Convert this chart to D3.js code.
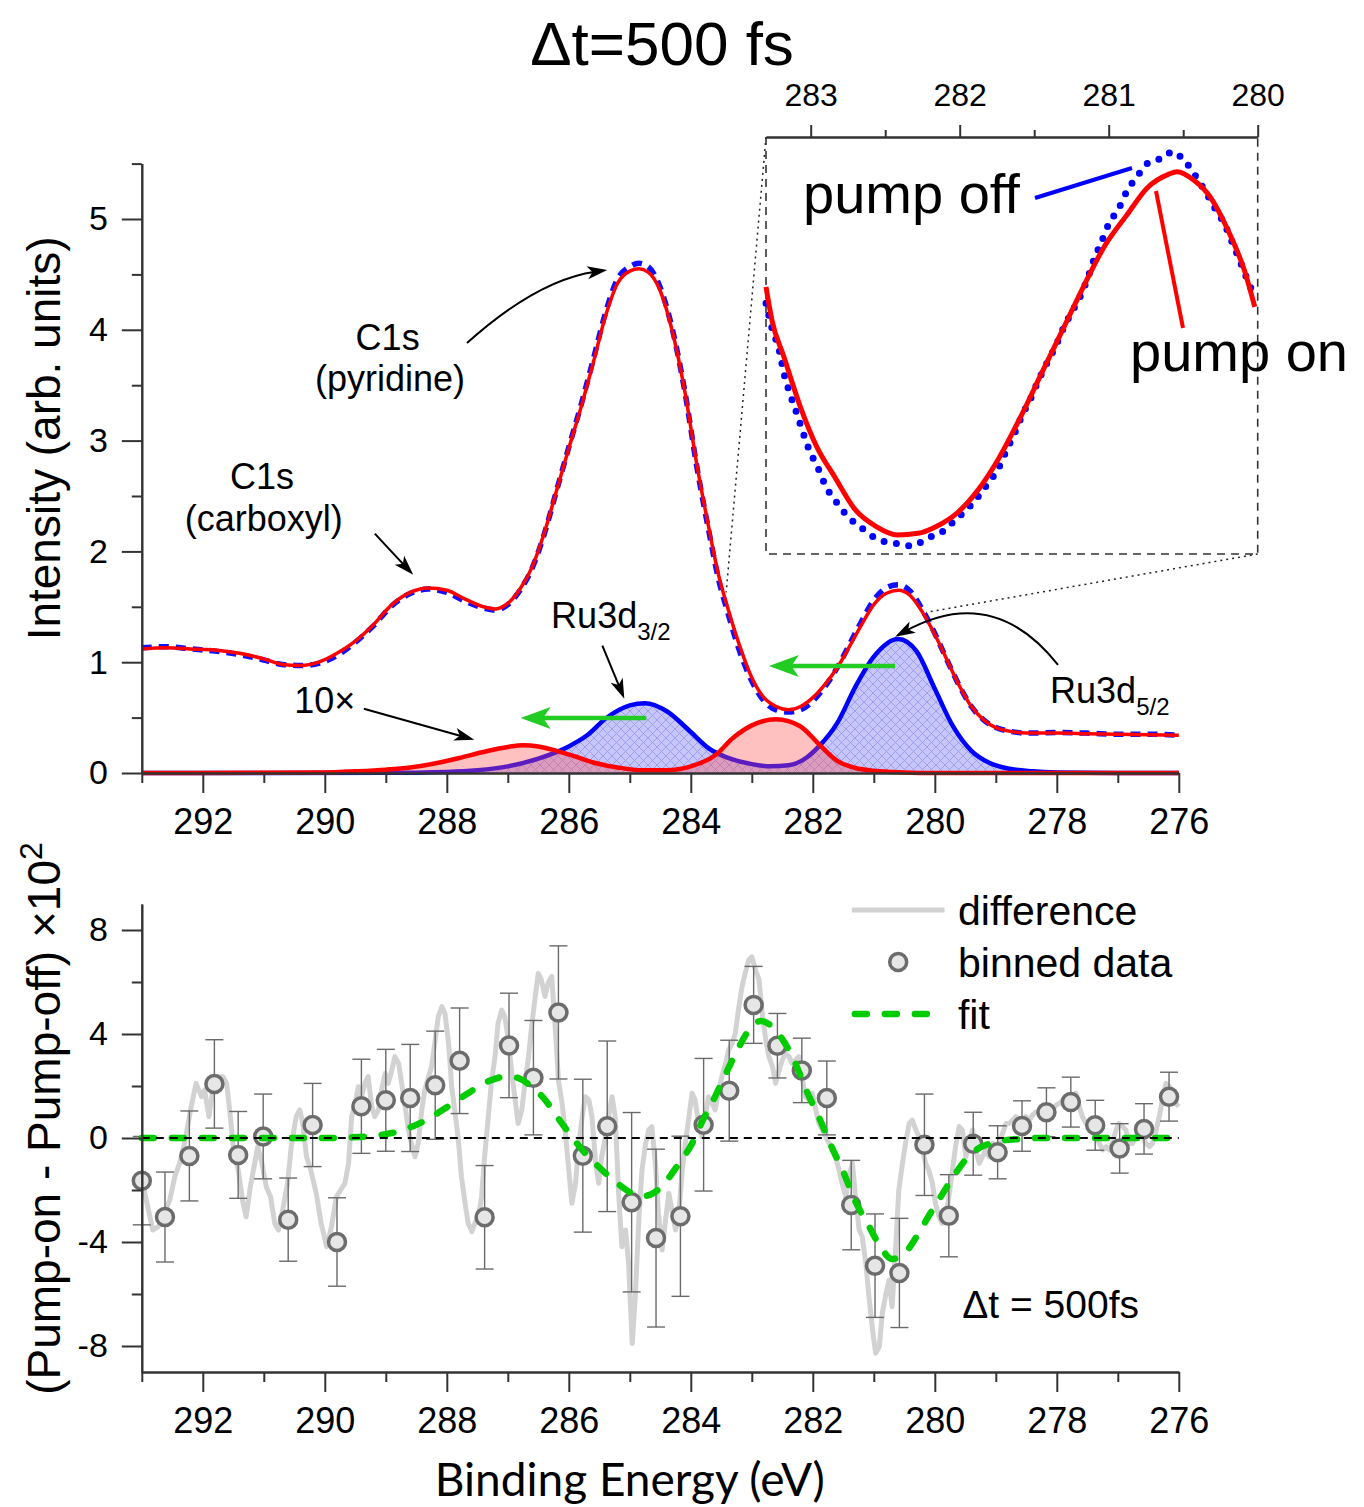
<!DOCTYPE html>
<html>
<head>
<meta charset="utf-8">
<script src="https://cdn.jsdelivr.net/npm/d3@7"></script>
<style>
  body { margin: 0; background: #fff; }
  text { fill: #000; }
</style>
</head>
<body>
<script>
"use strict";

var svg_width = 1364;
var svg_height = 1507;

// tick values
var energyMajor = [292, 290, 288, 286, 284, 282, 280, 278, 276];
var energyMinor = [293, 291, 289, 287, 285, 283, 281, 279, 277];
var intensityMajor = [0, 1, 2, 3, 4, 5];
var intensityMinor = [0.5, 1.5, 2.5, 3.5, 4.5, 5.5];
var diffMajor = [-8, -4, 0, 4, 8];
var diffMinor = [-6, -2, 2, 6];
var insetMajor = [283, 282, 281, 280];
var insetMinor = [282.5, 281.5, 280.5];

// XPS spectra [binding energy, intensity]
var pumpOn = [[293.0,1.12],[292.6,1.13],[292.2,1.12],[291.8,1.11],[291.4,1.08],[291.0,1.03],[290.7,0.98],[290.4,0.97],[290.1,1.0],[289.8,1.08],[289.5,1.19],[289.2,1.34],[288.9,1.52],[288.6,1.63],[288.3,1.67],[288.0,1.65],[287.7,1.57],[287.4,1.5],[287.2,1.48],[287.0,1.53],[286.8,1.66],[286.6,1.86],[286.4,2.17],[286.2,2.55],[286.0,2.93],[285.8,3.3],[285.6,3.7],[285.4,4.12],[285.2,4.42],[285.0,4.53],[284.85,4.55],[284.7,4.52],[284.5,4.35],[284.3,3.98],[284.1,3.45],[283.9,2.78],[283.7,2.2],[283.55,1.8],[283.4,1.5],[283.2,1.15],[283.0,0.86],[282.8,0.68],[282.6,0.6],[282.4,0.57],[282.2,0.6],[282.0,0.68],[281.8,0.8],[281.6,0.95],[281.4,1.14],[281.2,1.34],[281.0,1.52],[280.8,1.62],[280.6,1.65],[280.4,1.6],[280.2,1.45],[280.0,1.25],[279.8,1.02],[279.6,0.79],[279.4,0.6],[279.2,0.48],[279.0,0.41],[278.8,0.38],[278.5,0.36],[278.0,0.36],[277.5,0.355],[277.0,0.35],[276.5,0.345],[276.0,0.34]];
var pumpOff = [[293.0,1.13],[292.6,1.14],[292.2,1.12],[291.8,1.1],[291.4,1.07],[291.0,1.02],[290.7,0.98],[290.4,0.97],[290.1,0.99],[289.8,1.06],[289.5,1.18],[289.2,1.33],[288.9,1.51],[288.6,1.62],[288.3,1.66],[288.0,1.63],[287.7,1.55],[287.4,1.49],[287.2,1.47],[287.0,1.52],[286.8,1.65],[286.6,1.85],[286.4,2.16],[286.2,2.55],[286.0,2.94],[285.8,3.32],[285.6,3.73],[285.4,4.15],[285.2,4.46],[285.0,4.57],[284.85,4.6],[284.7,4.57],[284.5,4.38],[284.3,4.0],[284.1,3.45],[283.9,2.76],[283.7,2.17],[283.55,1.76],[283.4,1.46],[283.2,1.1],[283.0,0.83],[282.8,0.65],[282.6,0.57],[282.4,0.55],[282.2,0.57],[282.0,0.65],[281.8,0.78],[281.6,0.95],[281.4,1.16],[281.2,1.37],[281.0,1.56],[280.8,1.67],[280.6,1.7],[280.4,1.64],[280.2,1.47],[280.0,1.26],[279.8,1.02],[279.6,0.79],[279.4,0.6],[279.2,0.48],[279.0,0.41],[278.8,0.38],[278.5,0.36],[278.0,0.365],[277.5,0.36],[277.0,0.35],[276.5,0.35],[276.0,0.34]];

// fitted Ru3d components, 10x
var compOff = [[293,0],[289,0.002],[288,0.01],[287.5,0.025],[287,0.06],[286.5,0.13],[286,0.24],[285.7,0.34],[285.4,0.49],[285.0,0.61],[284.75,0.63],[284.4,0.56],[284.0,0.37],[283.7,0.22],[283.3,0.12],[283.0,0.08],[282.7,0.06],[282.4,0.07],[282.1,0.14],[281.9,0.24],[281.6,0.45],[281.3,0.78],[281.0,1.05],[280.6,1.21],[280.3,1.1],[280.0,0.76],[279.7,0.42],[279.4,0.2],[279.1,0.09],[278.8,0.04],[278.4,0.015],[278,0.005],[277,0],[276,0]];
var compOn = [[293,0],[291,0.002],[290,0.005],[289.5,0.015],[289,0.03],[288.6,0.05],[288.2,0.085],[287.8,0.135],[287.4,0.19],[287.0,0.235],[286.75,0.25],[286.5,0.24],[286.2,0.2],[285.9,0.15],[285.6,0.095],[285.2,0.05],[284.8,0.025],[284.4,0.025],[284.0,0.06],[283.6,0.16],[283.3,0.32],[283.0,0.43],[282.6,0.485],[282.2,0.42],[281.9,0.26],[281.6,0.11],[281.3,0.045],[281.0,0.02],[280.5,0.005],[280,0],[276,0]];

// zoomed Ru3d5/2 region (inset)
var insetOn = [[283.30,1.301],[283.26,1.201],[283.18,1.091],[283.07,0.942],[282.96,0.822],[282.84,0.732],[282.70,0.632],[282.56,0.582],[282.42,0.557],[282.28,0.562],[282.16,0.582],[282.02,0.622],[281.88,0.69],[281.74,0.785],[281.59,0.912],[281.45,1.042],[281.31,1.171],[281.17,1.301],[281.03,1.421],[280.88,1.515],[280.74,1.598],[280.60,1.638],[280.54,1.646],[280.43,1.621],[280.32,1.571],[280.20,1.471],[280.09,1.351],[280.02,1.241]];
var insetOff = [[283.30,1.252],[283.26,1.177],[283.21,1.109],[283.18,1.042],[283.14,0.982],[283.09,0.917],[283.05,0.862],[283.01,0.812],[282.95,0.757],[282.90,0.704],[282.83,0.657],[282.76,0.617],[282.64,0.572],[282.55,0.544],[282.43,0.532],[282.32,0.524],[282.22,0.547],[282.11,0.569],[282.03,0.602],[281.93,0.644],[281.88,0.670],[281.81,0.712],[281.74,0.757],[281.69,0.807],[281.63,0.864],[281.58,0.917],[281.52,0.970],[281.47,1.022],[281.41,1.076],[281.35,1.129],[281.30,1.181],[281.25,1.223],[281.19,1.273],[281.14,1.328],[281.10,1.381],[281.05,1.434],[281.00,1.489],[280.93,1.538],[280.88,1.586],[280.81,1.631],[280.74,1.671],[280.61,1.693],[280.58,1.706],[280.48,1.673],[280.41,1.628],[280.35,1.586],[280.29,1.539],[280.22,1.486],[280.17,1.433],[280.12,1.379],[280.07,1.323],[280.02,1.271]];

// pump-on minus pump-off (x100)
var difference = [[293.0,-1.3],[292.95,-2.13],[292.82,-3.54],[292.73,-3.41],[292.54,-2.38],[292.46,-1.49],[292.38,-0.97],[292.30,-0.21],[292.19,1.21],[292.11,2.10],[292.02,1.59],[291.97,1.85],[291.90,0.82],[291.83,1.97],[291.75,2.36],[291.67,2.36],[291.61,2.10],[291.56,1.08],[291.50,-0.33],[291.42,-1.23],[291.34,-2.51],[291.29,-3.03],[291.22,-1.87],[291.15,-0.97],[291.10,-0.33],[291.03,-0.97],[290.96,-1.87],[290.89,-2.26],[290.82,-3.28],[290.76,-3.54],[290.69,-2.77],[290.61,-1.74],[290.55,-0.33],[290.47,0.82],[290.41,1.08],[290.36,0.56],[290.30,-0.72],[290.23,-1.23],[290.14,-2.13],[290.06,-3.28],[289.97,-4.18],[289.89,-3.41],[289.81,-2.26],
  [289.67,-1.74],[289.61,-0.97],[289.56,0.82],[289.50,1.33],[289.45,1.97],[289.40,1.59],[289.34,2.10],[289.29,2.36],[289.23,1.21],[289.18,0.82],[289.12,1.08],[289.07,1.85],[289.01,2.49],[288.96,2.10],[288.90,2.62],[288.85,3.13],[288.79,2.87],[288.74,2.10],[288.69,1.33],[288.63,0.31],[288.58,-0.21],[288.52,-0.72],[288.47,-0.21],[288.41,1.08],[288.36,1.85],[288.30,2.36],[288.25,2.74],[288.19,3.77],[288.14,4.67],[288.08,5.05],[288.03,4.79],[287.97,3.64],[287.92,1.97],[287.87,1.08],[287.81,-0.08],[287.76,-1.49],[287.70,-2.51],[287.65,-3.28],[287.59,-3.60],[287.54,-3.28],[287.48,-3.03],[287.43,-2.26],[287.38,-0.72],[287.32,0.82],[287.27,2.10],[287.21,3.13],[287.16,4.41],[287.10,4.92],[287.05,4.67],[286.99,3.77],[286.94,2.62],[286.88,1.46],[286.83,0.56],[286.77,1.08],[286.72,2.10],[286.66,3.13],[286.61,4.28],[286.55,5.44],[286.50,6.33],[286.45,6.08],[286.39,5.44],[286.34,5.95],
  [286.28,6.21],[286.22,4.15],[286.17,2.23],[286.11,1.33],[286.06,0.31],[286.00,-1.23],[285.95,-2.51],[285.89,-1.74],[285.84,-0.33],[285.78,0.82],[285.73,1.59],[285.67,1.46],[285.62,0.82],[285.56,-0.97],[285.51,-1.74],[285.46,-0.72],[285.40,0.05],[285.35,0.82],[285.29,1.59],[285.24,0.82],[285.18,-2.26],[285.13,-4.18],[285.07,-3.54],[285.02,-4.82],[284.96,-7.90],[284.91,-6.10],[284.85,-3.03],[284.80,-1.23],[284.74,-0.21],[284.69,0.31],[284.64,0.44],[284.58,-0.97],[284.53,-2.90],[284.47,-4.31],[284.42,-3.28],[284.36,-2.13],[284.31,-2.77],[284.25,-3.54],[284.20,-3.03],[284.14,-1.23],[284.09,-0.21],[284.03,0.82],[283.98,1.72],[283.93,1.46],[283.87,0.56],[283.82,0.05],[283.76,0.82],[283.71,1.59],[283.65,1.33],[283.60,1.08],[283.54,1.85],[283.49,2.36],[283.43,2.87],[283.38,3.38],[283.32,3.64],[283.27,4.03],[283.22,4.92],[283.16,5.82],[283.11,6.33],[283.05,6.85],[283.00,6.97],[282.94,6.46],
  [282.88,6.08],[282.83,4.79],[282.77,3.77],[282.72,3.13],[282.66,2.74],[282.61,2.10],[282.55,2.62],[282.50,3.00],[282.45,3.26],[282.39,3.13],[282.34,2.87],[282.28,3.00],[282.23,3.13],[282.17,2.23],[282.12,1.59],[282.06,1.46],[282.01,1.72],[281.95,1.08],[281.90,0.56],[281.84,0.31],[281.79,0.05],[281.73,-0.21],[281.68,-0.46],[281.63,-0.72],[281.57,-1.23],[281.52,-1.74],[281.46,-2.26],[281.41,-1.49],[281.35,-0.97],[281.30,-2.26],[281.24,-3.54],[281.19,-3.79],[281.13,-4.82],[281.08,-6.10],[281.02,-7.38],[280.97,-8.28],[280.91,-8.03],[280.86,-6.74],[280.81,-6.10],[280.75,-5.46],[280.70,-6.49],[280.64,-4.18],[280.59,-2.00],[280.53,-0.97],[280.48,-0.21],[280.42,0.56],[280.37,0.69],[280.31,0.31],[280.26,0.05],[280.20,-0.46],[280.15,-0.97],[280.10,-1.23],[280.04,-1.74],[279.99,-2.51],[279.93,-3.03],[279.88,-3.28],[279.82,-3.15],[279.77,-2.26],[279.71,-1.23],[279.66,-0.33],[279.60,0.44],[279.55,0.31],
  [279.49,-0.72],[279.44,-0.21],[279.38,0.31],[279.33,-0.46],[279.27,-0.97],[279.22,-0.72],[279.16,-0.46],[279.11,-0.72],[279.05,-0.21],[279.00,-0.33],[278.94,-0.21],[278.89,0.18],[278.83,0.56],[278.78,0.56],[278.72,0.69],[278.67,0.82],[278.61,0.63],[278.56,0.69],[278.51,0.82],[278.45,0.69],[278.40,0.88],[278.34,1.01],[278.29,1.01],[278.23,1.08],[278.18,1.21],[278.12,1.01],[278.07,1.08],[278.01,1.27],[277.96,1.33],[277.90,1.46],[277.85,1.59],[277.80,1.59],[277.74,1.21],[277.69,1.72],[277.63,1.21],[277.58,0.82],[277.52,0.56],[277.47,0.44],[277.41,0.31],[277.36,0.05],[277.30,-0.21],[277.25,-0.46],[277.19,-0.33],[277.14,-0.46],[277.09,-0.21],[277.03,0.31],[276.98,0.56],[276.92,0.44],[276.87,0.31],[276.81,-0.21],[276.76,-0.21],[276.70,0.05],[276.65,0.31],[276.59,0.05],[276.54,-0.21],[276.48,-0.33],[276.43,-0.21],[276.37,0.31],[276.32,0.82],[276.26,1.59],[276.21,2.10],[276.15,1.97],[276.10,1.72],[276.05,1.33],[276.00,1.21]];

// binned data with error bars
var binE = [293.0,292.62,292.22,291.81,291.42,291.01,290.6,290.2,289.8,289.4,289.0,288.6,288.19,287.79,287.38,286.98,286.58,286.17,285.77,285.37,284.97,284.57,284.17,283.79,283.37,282.97,282.58,282.18,281.77,281.37,280.98,280.58,280.17,279.77,279.37,278.97,278.57,278.17,277.77,277.37,276.97,276.57,276.16];
var binV = [-1.64,-3.04,-0.69,2.08,-0.65,0.06,-3.14,0.5,-4.0,1.22,1.45,1.54,2.03,2.97,-3.05,3.56,2.32,4.83,-0.68,0.45,-2.47,-3.85,-3.01,0.51,1.82,5.12,3.55,2.6,1.54,-2.58,-4.91,-5.19,-0.26,-2.99,-0.22,-0.55,0.46,0.99,1.38,0.49,-0.4,0.35,1.59];
var binErr = [1.7,1.73,1.73,1.7,1.67,1.63,1.6,1.6,1.7,1.81,1.96,2.06,2.08,2.03,1.99,2.01,2.2,2.56,2.94,3.28,3.45,3.42,3.08,2.55,1.94,1.48,1.24,1.24,1.42,1.72,1.99,2.1,1.95,1.58,1.21,1.02,0.97,0.94,0.96,0.96,0.95,0.97,0.94];

// fit of the difference
var fitCurve = [[293.0,0],[290.0,0],[289.6,0.02],[289.2,0.08],[288.8,0.25],[288.4,0.62],[288.0,1.18],[287.6,1.8],[287.3,2.2],[287.0,2.37],[286.8,2.28],[286.6,1.95],[286.4,1.5],[286.2,0.85],[286.0,0.2],[285.8,-0.4],[285.6,-0.9],[285.4,-1.35],[285.2,-1.75],[285.0,-2.08],[284.8,-2.24],[284.6,-2.1],[284.4,-1.65],[284.2,-1.0],[284.0,-0.3],[283.8,0.7],[283.6,1.6],[283.4,2.6],[283.2,3.55],[283.0,4.3],[282.85,4.5],[282.7,4.35],[282.5,3.8],[282.3,2.95],[282.1,1.8],[281.9,0.8],[281.7,-0.3],[281.5,-1.3],[281.3,-2.45],[281.1,-3.3],[280.9,-4.15],[280.7,-4.65],[280.5,-4.45],[280.3,-3.8],[280.1,-3.0],[279.9,-2.25],[279.7,-1.5],[279.5,-0.85],[279.3,-0.42],[279.1,-0.22],[278.9,-0.1],[278.6,-0.04],[278.3,0],[276.0,0]];

var FONT = "'Liberation Sans', Arial, sans-serif";

var svg = d3.select("body").append("svg")
    .attr("width", svg_width)
    .attr("height", svg_height)
    .style("font-family", FONT);

var x = d3.scaleLinear().domain([293, 276]).range([141.8, 1178.8]);
var yTop = d3.scaleLinear().domain([0, 5.5]).range([773, 163.6]);
var yBot = d3.scaleLinear().domain([-9, 9]).range([1372, 904]);
var xIn = d3.scaleLinear().domain([283.3, 280]).range([766, 1257.7]);
var yIn = d3.scaleLinear().domain([0.5, 1.75]).range([554, 137]);

var defs = svg.append("defs");
var hatch = defs.append("pattern")
    .attr("id", "hatchBlue")
    .attr("patternUnits", "userSpaceOnUse")
    .attr("width", 9).attr("height", 9);
hatch.append("rect").attr("width", 9).attr("height", 9).attr("fill", "#c6c6fa");
hatch.append("path").attr("d", "M0,0L9,9M9,0L0,9M-1,8L1,10M8,-1L10,1")
    .attr("stroke", "#9a9aea").attr("stroke-width", 0.9);

function styleAxis(g, size) {
    g.attr("font-family", null);
    g.select(".domain").attr("stroke", "#333").attr("stroke-width", 2);
    g.selectAll(".tick line").attr("stroke", "#333").attr("stroke-width", 2);
    g.selectAll(".tick text").attr("font-size", size).style("font-family", FONT).attr("fill", "#000");
}

function energyAxis(yPos) {
    var g1 = svg.append("g").attr("transform", "translate(0," + yPos + ")")
        .call(d3.axisBottom(x).tickValues(energyMinor).tickSize(10).tickFormat("").tickSizeOuter(0));
    styleAxis(g1, 36);
    var g2 = svg.append("g").attr("transform", "translate(0," + yPos + ")")
        .call(d3.axisBottom(x).tickValues(energyMajor).tickSize(20).tickPadding(15)
              .tickFormat(function(d) {return String(d);}).tickSizeOuter(0));
    styleAxis(g2, 36);
}

function valueAxis(scale, major, minor) {
    var g1 = svg.append("g").attr("transform", "translate(" + x(293) + ",0)")
        .call(d3.axisLeft(scale).tickValues(minor).tickSize(10).tickFormat("").tickSizeOuter(0));
    styleAxis(g1, 34);
    var g2 = svg.append("g").attr("transform", "translate(" + x(293) + ",0)")
        .call(d3.axisLeft(scale).tickValues(major).tickSize(20).tickPadding(14)
              .tickFormat(function(d) {return String(d);}).tickSizeOuter(0));
    styleAxis(g2, 34);
}

function arrow(g, p0, c, p2, color, width, len, wid) {
    var dx = p2[0] - c[0], dy = p2[1] - c[1];
    var d = Math.sqrt(dx*dx + dy*dy), ux = dx/d, uy = dy/d;
    var back = [p2[0] - ux*len*0.6, p2[1] - uy*len*0.6];
    g.append("path")
        .attr("d", "M" + p0 + "Q" + c + " " + back)
        .attr("fill", "none").attr("stroke", color).attr("stroke-width", width);
    var bx = p2[0] - ux*len, by = p2[1] - uy*len, nx = -uy, ny = ux;
    var notch = [p2[0] - ux*len*0.75, p2[1] - uy*len*0.75];
    g.append("path")
        .attr("d", "M" + p2 + "L" + [bx + nx*wid/2, by + ny*wid/2] + "L" + notch +
              "L" + [bx - nx*wid/2, by - ny*wid/2] + "Z")
        .attr("fill", color);
}

function pt(xs, ys, d) {return [xs(d[0]), ys(d[1])];}

// ---------- title
svg.append("text")
    .attr("x", 662).attr("y", 65)
    .attr("text-anchor", "middle")
    .attr("font-size", 62)
    .text("\u0394t=500 fs");

// ---------- top panel: spectra
var lineTop = d3.line()
    .x(function(d) {return x(d[0]);})
    .y(function(d) {return yTop(d[1]);})
    .curve(d3.curveMonotoneX);
var areaTop = d3.area()
    .x(function(d) {return x(d[0]);})
    .y0(yTop(0))
    .y1(function(d) {return yTop(d[1]);})
    .curve(d3.curveMonotoneX);

var topPanel = svg.append("g");
topPanel.append("path").datum(compOff).attr("d", areaTop).attr("fill", "url(#hatchBlue)");
topPanel.append("path").datum(compOff).attr("d", lineTop)
    .attr("fill", "none").attr("stroke", "#0000ff").attr("stroke-width", 4.5);
topPanel.append("path").datum(compOn).attr("d", areaTop).attr("fill", "rgba(255,80,80,0.36)");
topPanel.append("path").datum(compOn).attr("d", lineTop)
    .attr("fill", "none").attr("stroke", "#ff0000").attr("stroke-width", 4.5);

topPanel.append("path").datum(pumpOff).attr("d", lineTop)
    .attr("fill", "none").attr("stroke", "#1010ff").attr("stroke-width", 5.5)
    .attr("stroke-dasharray", "10,7");
topPanel.append("path").datum(pumpOn).attr("d", lineTop)
    .attr("fill", "none").attr("stroke", "#ff0000").attr("stroke-width", 3.5);

energyAxis(yTop(0));
valueAxis(yTop, intensityMajor, intensityMinor);

svg.append("text")
    .attr("transform", "translate(60," + yTop(3.02) + ") rotate(-90)")
    .attr("text-anchor", "middle")
    .attr("font-size", 46)
    .text("Intensity (arb. units)");

// annotations (data coordinates)
var ann = svg.append("g");
function label(g, e, v, txt, size, anchor) {
    return g.append("text").attr("x", x(e)).attr("y", yTop(v))
        .attr("font-size", size).attr("text-anchor", anchor || "middle").text(txt);
}
label(ann, 288.97, 3.82, "C1s", 36);
label(ann, 288.93, 3.45, "(pyridine)", 36);
label(ann, 291.03, 2.56, "C1s", 36);
label(ann, 291.0, 2.18, "(carboxyl)", 36);
var r32 = label(ann, 286.29, 1.31, "Ru3d", 36, "start");
r32.append("tspan").attr("font-size", 24).attr("dy", 12).text("3/2");
var r52 = label(ann, 278.11, 0.63, "Ru3d", 36, "start");
r52.append("tspan").attr("font-size", 24).attr("dy", 12).text("5/2");
label(ann, 290.5, 0.54, "10\u00d7", 36, "start");

arrow(ann, pt(x, yTop, [287.67, 3.88]), pt(x, yTop, [286.52, 4.45]), pt(x, yTop, [285.37, 4.54]), "#000", 2, 20, 13);
arrow(ann, pt(x, yTop, [289.18, 2.16]), pt(x, yTop, [288.87, 1.975]), pt(x, yTop, [288.55, 1.79]), "#000", 2, 20, 13);
arrow(ann, pt(x, yTop, [285.45, 1.15]), pt(x, yTop, [285.27, 0.91]), pt(x, yTop, [285.09, 0.67]), "#000", 2, 20, 13);
arrow(ann, pt(x, yTop, [289.36, 0.58]), pt(x, yTop, [288.45, 0.44]), pt(x, yTop, [287.55, 0.30]), "#000", 2, 20, 13);
arrow(ann, pt(x, yTop, [277.98, 0.975]), pt(x, yTop, [279.04, 1.715]), pt(x, yTop, [280.65, 1.23]), "#000", 2, 20, 13);
arrow(ann, pt(x, yTop, [284.73, 0.496]), pt(x, yTop, [285.75, 0.496]), pt(x, yTop, [286.79, 0.496]), "#22cc22", 4.5, 30, 22);
arrow(ann, pt(x, yTop, [280.65, 0.966]), pt(x, yTop, [281.67, 0.966]), pt(x, yTop, [282.72, 0.966]), "#22cc22", 4.5, 30, 22);

// ---------- inset
var inset = svg.append("g");
inset.append("line")
    .attr("x1", xIn(283.3)).attr("y1", yIn(1.75))
    .attr("x2", x(283.42)).attr("y2", yTop(1.63))
    .attr("stroke", "#222").attr("stroke-width", 1.5).attr("stroke-dasharray", "2,4");
inset.append("line")
    .attr("x1", xIn(280)).attr("y1", yIn(0.5))
    .attr("x2", x(280.14)).attr("y2", yTop(1.45))
    .attr("stroke", "#222").attr("stroke-width", 1.5).attr("stroke-dasharray", "2,4");
inset.append("path")
    .attr("d", "M" + xIn(283.3) + "," + yIn(1.75) + "V" + yIn(0.5) + "H" + xIn(280) + "V" + yIn(1.75))
    .attr("fill", "none").attr("stroke", "#333").attr("stroke-width", 1.6)
    .attr("stroke-dasharray", "8,6");

var lineIn = d3.line()
    .x(function(d) {return xIn(d[0]);})
    .y(function(d) {return yIn(d[1]);})
    .curve(d3.curveMonotoneX);
inset.append("path").datum(insetOff).attr("d", lineIn)
    .attr("fill", "none").attr("stroke", "#0000ff").attr("stroke-width", 7)
    .attr("stroke-linecap", "round").attr("stroke-dasharray", "0,12.5");
inset.append("path").datum(insetOn).attr("d", lineIn)
    .attr("fill", "none").attr("stroke", "#ff0000").attr("stroke-width", 5)
    .attr("stroke-linejoin", "round");

var gi1 = svg.append("g").attr("transform", "translate(0," + yIn(1.75) + ")")
    .call(d3.axisTop(xIn).tickValues(insetMinor).tickSize(7).tickFormat("").tickSizeOuter(0));
styleAxis(gi1, 32);
var gi2 = svg.append("g").attr("transform", "translate(0," + yIn(1.75) + ")")
    .call(d3.axisTop(xIn).tickValues(insetMajor).tickSize(12).tickPadding(19)
          .tickFormat(function(d) {return String(d);}).tickSizeOuter(0));
styleAxis(gi2, 32);

inset.append("text").attr("x", 803).attr("y", 213).attr("font-size", 56).text("pump off");
inset.append("line").attr("x1", 1035).attr("y1", 198).attr("x2", 1132).attr("y2", 168)
    .attr("stroke", "#0000ff").attr("stroke-width", 4);
inset.append("text").attr("x", 1130).attr("y", 371).attr("font-size", 56).text("pump on");
inset.append("line").attr("x1", 1156).attr("y1", 191).attr("x2", 1183).attr("y2", 328)
    .attr("stroke", "#ff0000").attr("stroke-width", 4);

// ---------- bottom panel: difference
var lineBot = d3.line()
    .x(function(d) {return x(d[0]);})
    .y(function(d) {return yBot(d[1]);});

var bot = svg.append("g");
bot.append("path").datum(difference).attr("d", lineBot)
    .attr("fill", "none").attr("stroke", "#d2d2d2").attr("stroke-width", 5)
    .attr("stroke-linejoin", "round");

var bins = binE.map(function(e, i) {return {e: e, v: binV[i], err: binErr[i]};});
var bars = bot.selectAll(".err").data(bins).enter().append("g").attr("class", "err")
    .attr("stroke", "#6a6a6a").attr("stroke-width", 1.4);
bars.append("line")
    .attr("x1", function(d) {return x(d.e);}).attr("x2", function(d) {return x(d.e);})
    .attr("y1", function(d) {return yBot(d.v + d.err);}).attr("y2", function(d) {return yBot(d.v - d.err);});
bars.append("line")
    .attr("x1", function(d) {return x(d.e) - 9;}).attr("x2", function(d) {return x(d.e) + 9;})
    .attr("y1", function(d) {return yBot(d.v + d.err);}).attr("y2", function(d) {return yBot(d.v + d.err);});
bars.append("line")
    .attr("x1", function(d) {return x(d.e) - 9;}).attr("x2", function(d) {return x(d.e) + 9;})
    .attr("y1", function(d) {return yBot(d.v - d.err);}).attr("y2", function(d) {return yBot(d.v - d.err);});

bot.selectAll(".bin").data(bins).enter().append("circle").attr("class", "bin")
    .attr("cx", function(d) {return x(d.e);})
    .attr("cy", function(d) {return yBot(d.v);})
    .attr("r", 8.5)
    .attr("fill", "#e6e6e6").attr("stroke", "#6c6c6c").attr("stroke-width", 3.5);

bot.append("path").datum(fitCurve).attr("d", lineBot.curve(d3.curveMonotoneX))
    .attr("fill", "none").attr("stroke", "#00cc00").attr("stroke-width", 6.5)
    .attr("stroke-linecap", "round").attr("stroke-dasharray", "12,18");

bot.append("line")
    .attr("x1", x(293)).attr("x2", x(276))
    .attr("y1", yBot(0)).attr("y2", yBot(0))
    .attr("stroke", "#000").attr("stroke-width", 2).attr("stroke-dasharray", "8,6");

energyAxis(yBot(-9));
valueAxis(yBot, diffMajor, diffMinor);

var ylab = svg.append("text")
    .attr("transform", "translate(60," + yBot(0.75) + ") rotate(-90)")
    .attr("text-anchor", "middle")
    .attr("font-size", 46)
    .text("(Pump-on - Pump-off) \u00d710");
ylab.append("tspan").attr("font-size", 32).attr("dy", -18).text("2");

svg.append("text")
    .attr("x", x(285.0)).attr("y", 1496)
    .attr("text-anchor", "middle")
    .style("font-family", "Lato, 'Open Sans', sans-serif")
    .attr("font-size", 46)
    .text("Binding Energy (eV)");

// legend
var leg = svg.append("g");
leg.append("line").attr("x1", x(281.36)).attr("x2", x(279.84)).attr("y1", yBot(8.77)).attr("y2", yBot(8.77))
    .attr("stroke", "#d2d2d2").attr("stroke-width", 5);
leg.append("circle").attr("cx", x(280.6)).attr("cy", yBot(6.77)).attr("r", 8.5)
    .attr("fill", "#e6e6e6").attr("stroke", "#6c6c6c").attr("stroke-width", 3.5);
leg.append("line").attr("x1", x(281.36) + 3).attr("x2", x(279.84) - 3).attr("y1", yBot(4.77)).attr("y2", yBot(4.77))
    .attr("stroke", "#00cc00").attr("stroke-width", 6.5)
    .attr("stroke-linecap", "round").attr("stroke-dasharray", "12,18");
leg.append("text").attr("x", x(279.62)).attr("y", yBot(8.19)).attr("font-size", 41).text("difference");
leg.append("text").attr("x", x(279.62)).attr("y", yBot(6.19)).attr("font-size", 41).text("binned data");
leg.append("text").attr("x", x(279.62)).attr("y", yBot(4.19)).attr("font-size", 41).text("fit");
leg.append("text").attr("x", x(279.55)).attr("y", yBot(-6.92)).attr("font-size", 39).text("\u0394t = 500fs");
</script>
</body>
</html>
